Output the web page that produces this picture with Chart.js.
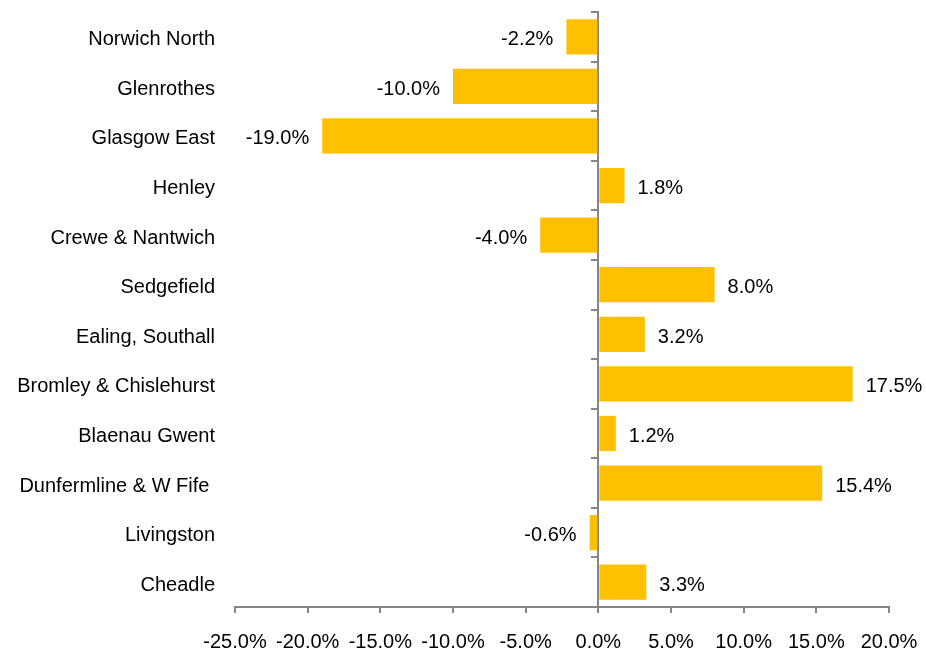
<!DOCTYPE html>
<html>
<head>
<meta charset="utf-8">
<script src="https://cdn.jsdelivr.net/npm/chart.js@4.4.1/dist/chart.umd.min.js"></script>
<style>
  html, body { margin: 0; padding: 0; background: #fff; }
  #wrap { width: 926px; height: 652px; position: relative; }
</style>
</head>
<body>
<div id="wrap"><canvas id="swingChart"></canvas></div>
<script>
// by-election swing, one value per seat (percent)
var seats = [
    'Norwich North', 'Glenrothes', 'Glasgow East', 'Henley', 'Crewe & Nantwich', 'Sedgefield',
    'Ealing, Southall', 'Bromley & Chislehurst', 'Blaenau Gwent', 'Dunfermline & W Fife ', 'Livingston', 'Cheadle'
];
var swing = [-2.2, -10.0, -19.0, 1.8, -4.0, 8.0, 3.2, 17.5, 1.2, 15.4, -0.6, 3.3];
var axisMin = -25;
var axisMax = 20;
var axisStep = 5;

var gold = '#FFC000';
var axisGrey = '#868686';
var labelFont = { family: "'Liberation Sans', Arial, sans-serif", size: 20 };

function pct(v) {
    return Number(v).toFixed(1) + '%';
}

var barLabels = {
    id: 'barLabels',
    afterDatasetsDraw: function(chart) {
        var ctx = chart.ctx;
        var meta = chart.getDatasetMeta(0);
        ctx.save();
        ctx.font = labelFont.size + 'px ' + labelFont.family;
        ctx.fillStyle = '#000';
        ctx.textBaseline = 'middle';
        meta.data.forEach(function(bar, i) {
            var v = swing[i];
            if (v >= 0) {
                ctx.textAlign = 'left';
                ctx.fillText(pct(v), bar.x + 13, bar.y + 3);
            } else {
                ctx.textAlign = 'right';
                ctx.fillText(pct(v), bar.x - 13, bar.y + 3);
            }
        });
        ctx.restore();
    }
};

var swingChart = new Chart(document.getElementById('swingChart'), {
    type: 'bar',
    data: {
        labels: seats,
        datasets: [{
            data: swing,
            backgroundColor: gold,
            borderWidth: 0,
            categoryPercentage: 1,
            barPercentage: 0.71
        }]
    },
    options: {
        indexAxis: 'y',
        animation: false,
        responsive: true,
        maintainAspectRatio: false,
        layout: {
            padding: { top: 12, right: 37, bottom: 0, left: 0 }
        },
        plugins: {
            legend: { display: false },
            tooltip: { enabled: false }
        },
        scales: {
            x: {
                type: 'linear',
                position: 'bottom',
                min: axisMin,
                max: axisMax,
                ticks: {
                    stepSize: axisStep,
                    color: '#000',
                    font: labelFont,
                    padding: 17,
                    maxRotation: 0,
                    callback: function(value) {
                        return pct(value);
                    }
                },
                grid: {
                    drawOnChartArea: false,
                    drawTicks: true,
                    tickLength: 6,
                    color: axisGrey,
                    lineWidth: 2
                },
                border: { display: true, color: axisGrey, width: 2 },
                afterFit: function(scale) {
                    scale.height = 45;
                    scale.paddingLeft = 0;
                    scale.paddingRight = 0;
                }
            },
            y: {
                type: 'category',
                position: 'left',
                ticks: {
                    color: '#000',
                    font: labelFont,
                    padding: 20,
                    labelOffset: 3
                },
                grid: { display: false, drawTicks: false },
                border: { display: false },
                afterFit: function(scale) {
                    scale.width = 235;
                    scale.paddingTop = 0;
                    scale.paddingBottom = 0;
                }
            },
            zero: {
                type: 'category',
                labels: seats,
                axis: 'y',
                position: { x: 0 },
                offset: true,
                z: 1,
                ticks: { display: false },
                grid: {
                    offset: true,
                    drawOnChartArea: false,
                    drawTicks: true,
                    tickLength: 6,
                    color: axisGrey,
                    lineWidth: 2
                },
                border: { display: true, color: axisGrey, width: 2 }
            }
        }
    },
    plugins: [barLabels]
});
</script>
</body>
</html>
